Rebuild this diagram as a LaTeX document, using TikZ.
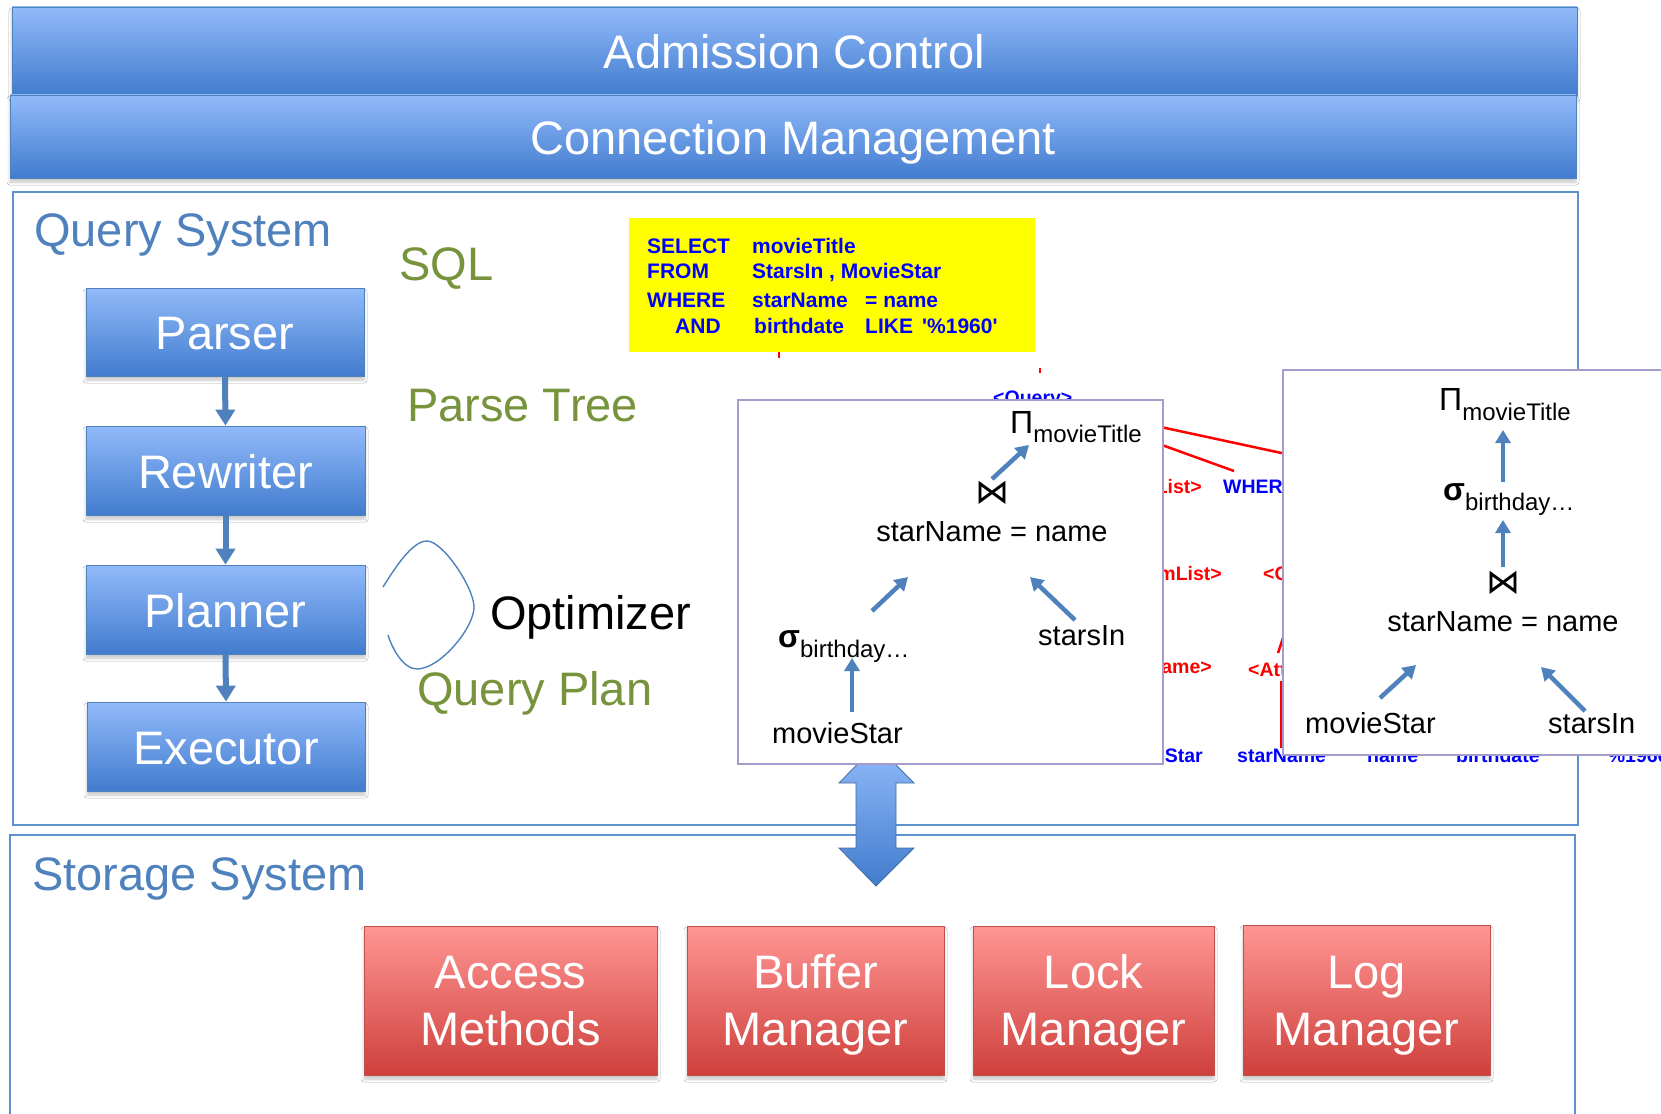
\documentclass[tikz,border=0pt]{standalone}
\usepackage{fontspec}
\setmainfont{Liberation Sans}
\newfontfamily\sqlfont{Liberation Sans}[Ligatures=TeXOff]
\newfontfamily\opfont{DejaVu Sans}
\usetikzlibrary{arrows.meta,shadows.blur}

\definecolor{accentblue}{RGB}{79,129,189}
\definecolor{boxtop}{RGB}{145,186,250}
\definecolor{boxbottom}{RGB}{66,124,206}
\definecolor{redtop}{RGB}{255,150,148}
\definecolor{redbottom}{RGB}{206,64,60}
\definecolor{redframe}{RGB}{192,80,77}
\definecolor{olivegreen}{RGB}{119,147,60}
\definecolor{frameblue}{RGB}{95,145,205}
\definecolor{treeframe}{RGB}{165,155,205}
\definecolor{sqlyellow}{RGB}{255,255,0}
\definecolor{sqlblue}{RGB}{0,0,255}
\definecolor{treered}{RGB}{255,0,0}

\newcommand\titlesz{\fontsize{47}{57}\selectfont}
\newcommand\treesz{\fontsize{29}{34}\selectfont}
\newcommand\opsz{\fontsize{32}{34}\selectfont}
\newcommand\subsz{\fontsize{24}{26}\selectfont}
\newcommand\sqlsz{\fontsize{21}{24}\selectfont}
\newcommand\ptsz{\fontsize{19.5}{22}\selectfont}
% fixed line box so two-line labels sit at the same height
\newcommand\linebox{\rule[-12pt]{0pt}{57pt}}

\tikzset{
  softshadow/.style={blur shadow={shadow xshift=0pt,shadow yshift=-4pt,
      shadow blur radius=3pt,shadow opacity=22}},
  bluebar/.style={draw=accentblue,line width=0.8pt,top color=boxtop,
      bottom color=boxbottom,text=white,font=\titlesz,inner sep=0pt,
      text height=40pt,text depth=5pt,softshadow},
  redbox/.style={draw=redframe,line width=0.8pt,top color=redtop,
      bottom color=redbottom,text=white,font=\titlesz,inner sep=0pt,
      align=center,softshadow},
  sysframe/.style={draw=frameblue,line width=1.1pt,inner sep=0pt},
  heading/.style={anchor=base west,inner sep=0pt,font=\titlesz},
  flowarrow/.style={draw=accentblue,line width=6pt,
      -{Triangle[width=19pt,length=16pt]}},
  treebox/.style={draw=treeframe,line width=1.4pt,fill=white,inner sep=0pt},
  treetext/.style={anchor=base west,inner sep=0pt,font=\treesz},
  joinop/.style={inner sep=0pt,font=\opfont\fontsize{34}{34}\selectfont},
  treearrow/.style={draw=accentblue,line width=4.5pt,
      -{Triangle[width=15pt,length=13pt]}},
  sqltext/.style={anchor=base west,inner sep=0pt,text=sqlblue,
      font=\sqlfont\bfseries\sqlsz},
  ptblue/.style={inner sep=0pt,text=sqlblue,font=\sqlfont\bfseries\ptsz},
  ptred/.style={inner sep=0pt,text=treered,font=\sqlfont\bfseries\ptsz},
  ptline/.style={draw=treered,line width=2.5pt},
}

\begin{document}
\begin{tikzpicture}[x=1pt,y=-1pt]
\useasboundingbox (0,0) rectangle (1661,1113);
\fill[white] (0,0) rectangle (1661,1113);

% connection layers at the top
\node[bluebar,minimum width=1565pt,minimum height=88pt] (adm) at (794.5,51) {Admission Control};
\node[bluebar,minimum width=1566pt,minimum height=83pt] (conn) at (793,136.5) {Connection Management};

% system frames
\node[sysframe,minimum width=1565pt,minimum height=633pt] (qsys) at (795.5,508.5) {};
\node[sysframe,minimum width=1565pt,minimum height=300pt] (ssys) at (792.5,985) {};
\node[heading,text=accentblue] (qlabel) at (34,246) {Query System};
\node[heading,text=accentblue] (slabel) at (32,890) {Storage System};

% query pipeline
\node[bluebar,minimum width=278pt,minimum height=88pt] (parser) at (225,332) {Parser};
\node[bluebar,minimum width=279pt,minimum height=89pt] (rewriter) at (225.5,470.5) {Rewriter};
\node[bluebar,minimum width=279pt,minimum height=89pt] (planner) at (225.5,609.5) {Planner};
\node[bluebar,minimum width=278pt,minimum height=89pt] (executor) at (226,746.5) {Executor};
\draw[flowarrow] (parser.south) -- (rewriter.north);
\draw[flowarrow] (rewriter.south) -- (planner.north);
\draw[flowarrow] (planner.south) -- (executor.north);

% stage captions
\node[heading,text=olivegreen] (sqllabel) at (399,280) {SQL};
\node[heading,text=olivegreen] (ptlabel) at (407,421) {Parse Tree};
\node[heading,text=olivegreen] (qplabel) at (417,705) {Query Plan};
\node[heading,text=black] (optlabel) at (490,629) {Optimizer};
\draw[accentblue,line width=1.4pt]
  (383,587) .. controls (395,568) and (412,541) .. (427,541)
  .. controls (443,541) and (474,588) .. (474,607)
  .. controls (474,628) and (440,669) .. (417,669)
  .. controls (403,669) and (392,648) .. (388,635);

% SQL statement
\node[fill=sqlyellow,minimum width=406pt,minimum height=134pt,inner sep=0pt] (sqlbox) at (832,285) {};
\node[sqltext] (kwselect) at (647,253) {SELECT};
\node[sqltext] (kwfrom) at (647,278) {FROM};
\node[sqltext] (kwwhere) at (647,307) {WHERE};
\node[sqltext] (kwand) at (675,333) {AND};
\node[sqltext] (sqlcol) at (752,253) {movieTitle};
\node[sqltext] (sqlrel) at (752,278) {StarsIn , MovieStar};
\node[sqltext] (sqlcondl) at (752,307) {starName};
\node[sqltext] (sqlcondr) at (865,307) {= name};
\node[sqltext] (sqlattr) at (754,333) {birthdate};
\node[sqltext] (sqllike) at (865,333) {LIKE};
\node[sqltext] (sqlpat) at (922,333) {'\%1960'};

% parse tree (mostly covered by the plan trees)
\coordinate (ptroot) at (1040,401);
\coordinate (ptfar) at (1300,457);
\coordinate (ptwhere) at (1234,471);
\node[ptblue,anchor=base west] (ptquery) at (993,404) {<Query>};
\node[ptred,anchor=base east] (ptsel) at (1202,493) {<SelList>};
\node[ptblue,anchor=base west] (ptwh) at (1223,493) {WHERE};
\node[ptred,anchor=base east] (ptfrom) at (1222,580) {<FromList>};
\node[ptred,anchor=base west] (ptcond) at (1263,580) {<Condition>};
\node[ptred,anchor=base east] (ptrel) at (1212,673) {<RelName>};
\node[ptred,anchor=base west] (ptattr) at (1248,676) {<Attribute>};
\node[ptblue,anchor=base east] (ptms) at (1203,762) {MovieStar};
\node[ptblue,anchor=base west] (ptsn) at (1237,762) {starName};
\node[ptblue,anchor=base west] (ptnm) at (1367,762) {name};
\node[ptblue,anchor=base west] (ptbd) at (1456,762) {birthdate};
\node[ptblue,anchor=base west] (ptpc) at (1603,762) {'\%1960'};
\draw[ptline] (ptroot) -- (ptfar);
\draw[ptline] (ptroot) -- (ptwhere);
\draw[ptline] ([xshift=-53pt]sqlbox.south) -- ++(0,6);
\draw[ptline] (ptroot) ++(0,-33) -- ++(0,5);
\coordinate (ptattrtop) at (1278,653);
\coordinate (ptattrbot) at (1281,681);
\draw[ptline] (ptattrtop) -- ++(5,-15);
\draw[ptline] (ptattrbot) -- (ptattrbot |- ptsn.north);

% data exchange between query and storage system
\draw[draw=accentblue!85!black,line width=0.8pt,top color=boxtop,bottom color=boxbottom]
  (876,745) -- (914,783) -- (896,783) -- (896,848) -- (914,848) -- (876,886)
  -- (839,848) -- (856,848) -- (856,783) -- (839,783) -- cycle;

% first plan tree
\node[treebox,minimum width=425pt,minimum height=364pt] (lbox) at (950.5,582) {};
\node[treetext] (lpi) at (1010,433) {\opsz Π\raisebox{-9pt}{\subsz movieTitle}};
\node[joinop] (ljoin) at (992,493) {⋈};
\node[treetext,anchor=base] (lcond) at (992,541) {starName = name};
\node[treetext] (lsigma) at (778,647) {\opsz\bfseries σ\raisebox{-10pt}{\subsz\mdseries birthday…}};
\node[treetext] (lstars) at (1038,645) {starsIn};
\node[treetext] (lstar) at (772,743) {movieStar};
\draw[treearrow] ([shift={(0,-14)}]ljoin.center) -- ([shift={(19,12)}]lpi.base west);
\draw[treearrow] ([shift={(94,-36)}]lsigma.base west) -- ([shift={(-84,36)}]lcond.base);
\draw[treearrow] ([shift={(37,-25)}]lstars.base west) -- ([shift={(38,36)}]lcond.base);
\draw[treearrow] ([shift={(80,-31)}]lstar.base west) -- ([shift={(74,11)}]lsigma.base west);

% second plan tree
\node[treebox,minimum width=440pt,minimum height=385pt] (rbox) at (1503,562.5) {};
\node[treetext] (rpi) at (1439,410) {\opsz Π\raisebox{-10pt}{\subsz movieTitle}};
\node[treetext] (rsigma) at (1443,500) {\opsz\bfseries σ\raisebox{-10pt}{\subsz\mdseries birthday…}};
\node[joinop] (rjoin) at (1503,583) {⋈};
\node[treetext,anchor=base] (rcond) at (1503,631) {starName = name};
\node[treetext] (rstar) at (1305,733) {movieStar};
\node[treetext] (rstars) at (1548,733) {starsIn};
\draw[treearrow] ([shift={(60,-18)}]rsigma.base west) -- ([shift={(64,20)}]rpi.base west);
\draw[treearrow] ([shift={(0,-16)}]rjoin.center) -- ([shift={(60,20)}]rsigma.base west);
\draw[treearrow] ([shift={(75,-35)}]rstar.base west) -- ([shift={(-87,34)}]rcond.base);
\draw[treearrow] ([shift={(37,-22)}]rstars.base west) -- ([shift={(38,36)}]rcond.base);

% storage components
\node[redbox,minimum width=293pt,minimum height=149pt] (access) at (510.5,1000.5) {Access\linebox\\Methods\linebox};
\node[redbox,minimum width=257pt,minimum height=149pt] (buffer) at (815.5,1000.5) {Buffer\linebox\\Manager\linebox};
\node[redbox,minimum width=241pt,minimum height=149pt] (lock) at (1093.5,1000.5) {Lock\linebox\\Manager\linebox};
\node[redbox,minimum width=247pt,minimum height=150pt] (logm) at (1366.5,1000) {Log\linebox\\Manager\linebox};
\end{tikzpicture}
\end{document}
